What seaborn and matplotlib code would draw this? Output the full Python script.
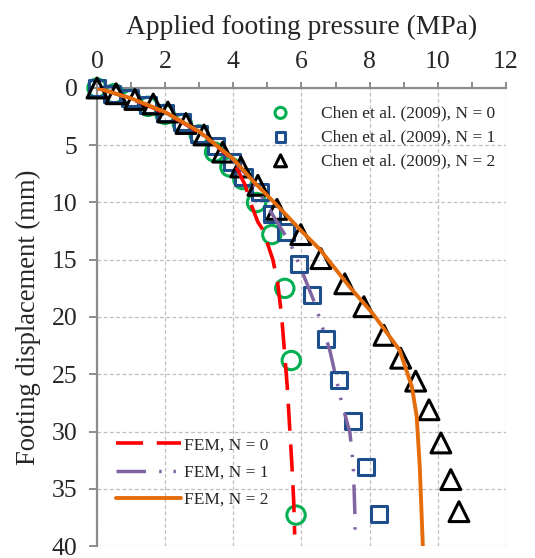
import matplotlib
matplotlib.use("Agg")
import matplotlib.pyplot as plt
from matplotlib.ticker import MultipleLocator
import seaborn as sns

# Measured load-settlement points, Chen et al. (2009)
chen_n0_p = [0.0, 0.5, 1.0, 1.5, 2.0, 2.5, 3.0, 3.45, 3.9, 4.28, 4.68, 5.13, 5.51, 5.7, 5.84]
chen_n0_s = [0.0, 0.5, 1.0, 1.6, 2.3, 3.1, 4.1, 5.6, 6.9, 8.0, 10.0, 12.8, 17.5, 23.8, 37.3]

chen_n1_p = [0.0, 0.45, 0.97, 1.5, 2.0, 2.5, 3.0, 3.5, 3.95, 4.3, 4.78, 5.14, 5.55, 5.92, 6.31, 6.72, 7.1, 7.5, 7.89, 8.27]
chen_n1_s = [0.0, 0.5, 0.9, 1.5, 2.2, 3.0, 4.0, 5.1, 6.5, 7.8, 9.1, 11.0, 12.6, 15.4, 18.1, 21.9, 25.5, 29.1, 33.1, 37.2]

chen_n2_p = [0.0, 0.56, 1.11, 1.65, 2.08, 2.61, 3.14, 3.69, 4.22, 4.72, 5.28, 5.98,
             6.57, 7.27, 7.83, 8.42, 8.91, 9.35, 9.74, 10.09, 10.38, 10.62]
chen_n2_s = [0.0, 0.5, 1.0, 1.4, 2.1, 3.1, 4.1, 5.6, 6.9, 8.5, 10.6, 12.8,
             14.9, 17.1, 19.1, 21.6, 23.6, 25.6, 28.1, 31.0, 34.2, 37.0]

# FEM predictions
fem_n0_p = [0.0, 0.5, 1.0, 1.5, 2.0, 2.5, 3.0, 3.5, 4.0, 4.35, 4.5, 4.72, 4.87, 5.16, 5.3, 5.42, 5.5, 5.58, 5.65, 5.72, 5.77, 5.8]
fem_n0_s = [0.0, 0.45, 0.95, 1.55, 2.2, 3.0, 3.9, 5.0, 6.4, 8.5, 10.0, 11.7, 12.4, 15.0, 17.0, 20.0, 23.0, 26.0, 29.5, 33.0, 36.0, 39.0]

fem_n1_p = [0.0, 0.5, 1.0, 1.5, 2.0, 2.5, 3.0, 3.5, 4.0, 4.5, 4.9, 5.3, 5.66, 6.0, 6.39, 6.83, 7.18, 7.42, 7.52, 7.57, 7.57]
fem_n1_s = [0.0, 0.45, 0.95, 1.5, 2.15, 2.95, 3.9, 5.0, 6.3, 8.0, 9.8, 11.8, 13.5, 15.9, 18.8, 22.9, 27.5, 30.1, 33.0, 37.5, 39.2]

fem_n2_p = [0.0, 1.0, 2.0, 3.0, 4.0, 4.6, 5.3, 6.0, 6.54, 7.42, 8.09, 8.88, 9.24, 9.38, 9.47, 9.56]
fem_n2_s = [0.0, 0.9, 2.1, 3.8, 6.2, 8.2, 10.3, 12.5, 14.1, 17.4, 19.7, 22.9, 26.1, 28.7, 33.1, 40.0]

x_ticks = [0, 2, 4, 6, 8, 10, 12]
y_ticks = [0, 5, 10, 15, 20, 25, 30, 35, 40]

sns.set_theme(style="white")
plt.rcParams["font.family"] = ["Liberation Serif", "DejaVu Serif"]

fig = plt.figure(figsize=(5.35, 5.58), dpi=100)
ax = fig.add_axes([0.1813, 0.0215, 0.9458 - 0.1813, 0.8423 - 0.0215])

GREEN = "#00B050"
BLUE = "#1F4E8C"
RED = "#FF0000"
PURPLE = "#8064A2"
ORANGE = "#E46C0A"

sns.scatterplot(x=chen_n0_p, y=chen_n0_s, ax=ax, marker="o", s=175,
                facecolor="none", edgecolor=GREEN, linewidth=2.2,
                clip_on=False, zorder=3, label="Chen et al. (2009), N = 0")
sns.scatterplot(x=chen_n1_p, y=chen_n1_s, ax=ax, marker="s", s=135,
                facecolor="none", edgecolor=BLUE, linewidth=2.2,
                clip_on=False, zorder=4, label="Chen et al. (2009), N = 1")
sns.scatterplot(x=chen_n2_p, y=chen_n2_s, ax=ax, marker="^", s=205,
                facecolor="none", edgecolor="black", linewidth=2.2,
                clip_on=False, zorder=5, label="Chen et al. (2009), N = 2")

sns.lineplot(x=fem_n0_p, y=fem_n0_s, ax=ax, sort=False, estimator=None,
             color=RED, lw=2.6, linestyle=(0, (7.5, 3.8)), zorder=6,
             label="FEM, N = 0")
sns.lineplot(x=fem_n1_p, y=fem_n1_s, ax=ax, sort=False, estimator=None,
             color=PURPLE, lw=2.5, linestyle=(0, (8.5, 3.8, 0.7, 3.4, 0.7, 3.8)),
             zorder=6, label="FEM, N = 1")
sns.lineplot(x=fem_n2_p, y=fem_n2_s, ax=ax, sort=False, estimator=None,
             color=ORANGE, lw=2.8, zorder=6, label="FEM, N = 2")

ax.set_xlim(0, 12)
ax.set_ylim(40, 0)
ax.set_xticks(x_ticks)
ax.set_yticks(y_ticks)
ax.xaxis.set_minor_locator(MultipleLocator(1))
ax.xaxis.tick_top()
ax.xaxis.set_label_position("top")

SPINE = "#8C8C8C"
for side in ("right", "bottom"):
    ax.spines[side].set_visible(False)
for side in ("top", "left"):
    ax.spines[side].set_color(SPINE)
    ax.spines[side].set_linewidth(1.6)

ax.tick_params(axis="x", which="both", top=True, bottom=False, direction="out",
               length=4.5, width=1.4, color=SPINE, labelsize=18.5, pad=6.5)
ax.tick_params(axis="y", which="major", left=True, direction="out",
               length=6, width=1.4, color=SPINE, labelsize=18.5, pad=8)

ax.grid(True, which="major", linestyle=(0, (3, 2)), color="#BFBFBF", lw=0.9)
ax.set_axisbelow(True)

ax.set_xlabel("Applied footing pressure (MPa)", fontsize=19.8, labelpad=12)
ax.set_ylabel("Footing displacement (mm)", fontsize=19.2, labelpad=8)

handles, labels = ax.get_legend_handles_labels()
leg1 = ax.legend(handles[:3], labels[:3], loc="upper right",
                 bbox_to_anchor=(1.0, 0.985), frameon=False, fontsize=12.5,
                 markerscale=0.6, handlelength=1.2, handletextpad=1.75,
                 labelspacing=0.45, borderaxespad=0.2)
ax.add_artist(leg1)
ax.legend(handles[3:], labels[3:], loc="lower left",
          bbox_to_anchor=(0.02, 0.06), frameon=False, fontsize=12.5,
          handlelength=3.75, handletextpad=0.2, labelspacing=0.65,
          borderaxespad=0.2)

fig.savefig("out.png", dpi=100)
